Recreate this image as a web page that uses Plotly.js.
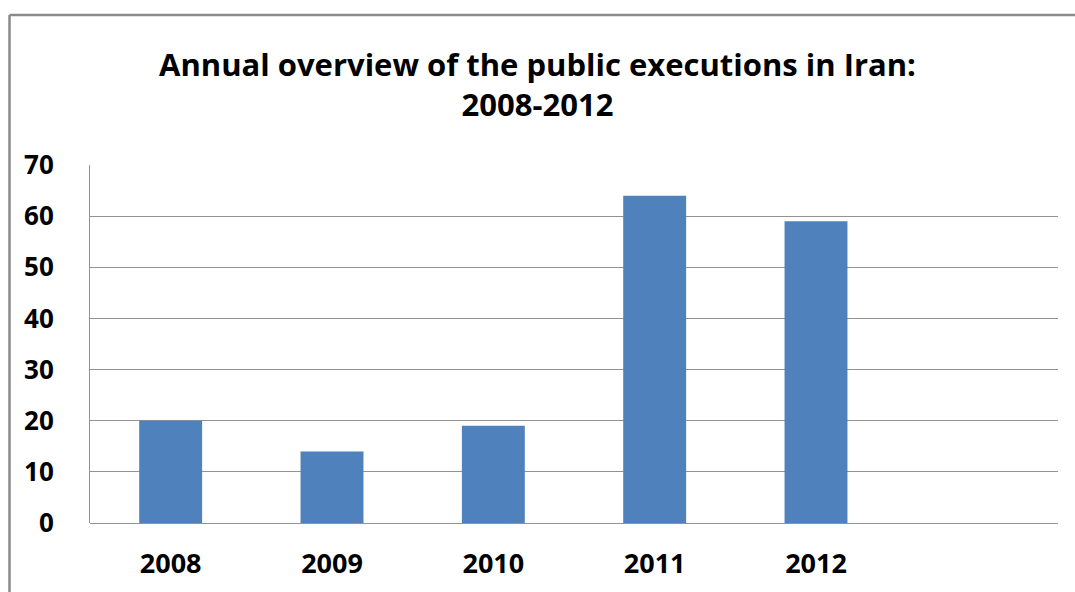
<!DOCTYPE html>
<html>
<head>
<meta charset="utf-8">
<script src="https://cdn.plot.ly/plotly-3.0.1.min.js"></script>
<style>
  html, body { margin: 0; padding: 0; background: #ffffff; }
  #chart { width: 1075px; height: 592px; }
</style>
</head>
<body>
<div id="chart"></div>
<script>
// Data
const years = ['2008', '2009', '2010', '2011', '2012'];
const executions = [20, 14, 19, 64, 59];
const yTicks = [0, 10, 20, 30, 40, 50, 60, 70];

const FONT = '"Open Sans", sans-serif';

const trace = {
  type: 'bar',
  x: years,
  y: executions,
  marker: { color: '#4F81BD' },
  hoverinfo: 'x+y'
};

const layout = {
  width: 1075,
  height: 592,
  margin: { l: 90, r: 17, t: 165, b: 69 },
  paper_bgcolor: '#ffffff',
  plot_bgcolor: '#ffffff',
  bargap: 0.61,
  showlegend: false,
  font: { family: FONT, color: '#000000' },
  title: {
    text: '<b>Annual overview of the public executions in Iran:<br>2008-2012</b>',
    font: { family: FONT, size: 31, color: '#000000' },
    x: 0.5, xanchor: 'center',
    y: 1 - 76 / 592, yanchor: 'middle'
  },
  xaxis: {
    type: 'category',
    range: [-0.5, 5.5],
    showgrid: false,
    showline: false,
    zeroline: false,
    ticks: '',
    tickfont: { family: FONT, size: 27, color: '#000000', weight: 'bold' },
    ticklabelstandoff: 22
  },
  yaxis: {
    range: [0, 70],
    tickvals: yTicks,
    showgrid: true,
    gridcolor: '#929292',
    gridwidth: 1,
    showline: true,
    linecolor: '#929292',
    linewidth: 1,
    zeroline: true,
    zerolinecolor: '#929292',
    zerolinewidth: 1,
    ticks: '',
    tickfont: { family: FONT, size: 26, color: '#000000', weight: 'bold' },
    ticklabelstandoff: 30
  },
  shapes: [
    { type: 'line', xref: 'paper', yref: 'paper',
      x0: (9.5 - 90) / 968, x1: 1.1, y0: (523 - 15) / 358, y1: (523 - 15) / 358,
      line: { color: '#8a8a8a', width: 2.5 } },
    { type: 'line', xref: 'paper', yref: 'paper',
      x0: (9.5 - 90) / 968, x1: (9.5 - 90) / 968, y0: (523 - 15) / 358, y1: -0.3,
      line: { color: '#8a8a8a', width: 2.5 } }
  ]
};

Plotly.newPlot('chart', [trace], layout, { displayModeBar: false, staticPlot: true });
</script>
</body>
</html>
